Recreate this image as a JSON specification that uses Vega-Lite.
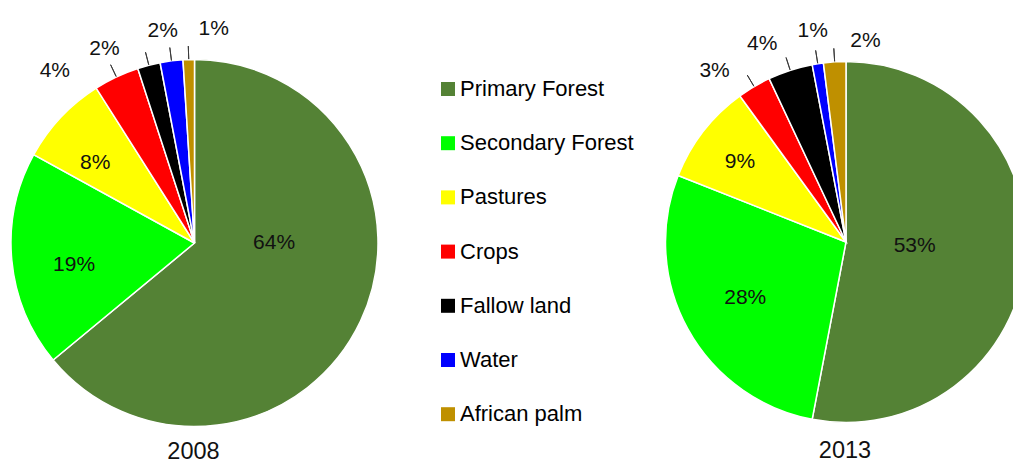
{
  "$schema": "https://vega.github.io/schema/vega-lite/v6.json",
  "width": 1013,
  "height": 467,
  "autosize": "none",
  "padding": 0,
  "background": "white",
  "config": {"view": {"stroke": null}, "text": {"font": "Liberation Sans", "fontSize": 21, "fill": "#111111"}},
  "data": {
    "values": [
      {"year": "2008", "cat": "Primary Forest", "k": 1, "share": 0.64},
      {"year": "2008", "cat": "Secondary Forest", "k": 2, "share": 0.19},
      {"year": "2008", "cat": "Pastures", "k": 3, "share": 0.08},
      {"year": "2008", "cat": "Crops", "k": 4, "share": 0.04},
      {"year": "2008", "cat": "Fallow land", "k": 5, "share": 0.02},
      {"year": "2008", "cat": "Water", "k": 6, "share": 0.02},
      {"year": "2008", "cat": "African palm", "k": 7, "share": 0.01},
      {"year": "2013", "cat": "Primary Forest", "k": 1, "share": 0.53},
      {"year": "2013", "cat": "Secondary Forest", "k": 2, "share": 0.28},
      {"year": "2013", "cat": "Pastures", "k": 3, "share": 0.09},
      {"year": "2013", "cat": "Crops", "k": 4, "share": 0.03},
      {"year": "2013", "cat": "Fallow land", "k": 5, "share": 0.04},
      {"year": "2013", "cat": "Water", "k": 6, "share": 0.01},
      {"year": "2013", "cat": "African palm", "k": 7, "share": 0.02}
    ]
  },
  "layer": [
    {
      "transform": [{"filter": "datum.year == '2008'"}],
      "encoding": {
        "x": {"field": "year", "type": "nominal", "axis": null, "scale": {"type": "point", "domain": ["2008", "2013"], "range": [194.5, 846], "padding": 0}},
        "y": {"field": "year", "type": "nominal", "axis": null, "scale": {"type": "point", "domain": ["2008", "2013"], "range": [243, 242], "padding": 0}},
        "theta": {"field": "share", "type": "quantitative", "stack": true, "scale": {"domain": [0, 1]}},
        "order": {"field": "k", "type": "quantitative"},
        "detail": {"field": "cat", "type": "nominal"}
      },
      "layer": [
        {
          "mark": {"type": "arc", "outerRadius": 183.5, "stroke": "white", "strokeWidth": 1.5},
          "encoding": {
            "color": {
              "field": "cat", "type": "nominal",
              "scale": {"domain": ["Primary Forest", "Secondary Forest", "Pastures", "Crops", "Fallow land", "Water", "African palm"], "range": ["#548235", "#00FF00", "#FFFF00", "#FF0000", "#000000", "#0000FF", "#BF9000"]},
              "legend": {"orient": "none", "legendX": 437, "legendY": 78, "title": null, "symbolType": "square", "symbolSize": 196, "symbolStrokeWidth": 0, "labelFont": "Liberation Sans", "labelFontSize": 22, "labelColor": "#000000", "rowPadding": 32.2, "labelOffset": 1, "labelLimit": 300}
            }
          }
        },
        {
          "mark": {"type": "arc", "innerRadius": 184, "outerRadius": 197, "padAngle": 0.6, "fillOpacity": 0, "stroke": "#3a3a3a", "strokeWidth": 1},
          "encoding": {"strokeOpacity": {"condition": {"test": "datum.share < 0.05", "value": 1}, "value": 0}}
        },
        {"mark": {"type": "text", "radius": 78, "dx": 9, "dy": -33},
         "encoding": {"text": {"condition": {"test": "datum.cat == 'Primary Forest'", "field": "share", "type": "quantitative", "format": ".0%"}, "value": ""}}},
        {"mark": {"type": "text", "radius": 122, "dx": 1, "dy": 11},
         "encoding": {"text": {"condition": {"test": "datum.cat == 'Secondary Forest'", "field": "share", "type": "quantitative", "format": ".0%"}, "value": ""}}},
        {"mark": {"type": "text", "radius": 128, "dx": -6, "dy": 8},
         "encoding": {"text": {"condition": {"test": "datum.cat == 'Pastures'", "field": "share", "type": "quantitative", "format": ".0%"}, "value": ""}}},
        {"mark": {"type": "text", "radius": 213, "dx": -49, "dy": 21},
         "encoding": {"text": {"condition": {"test": "datum.cat == 'Crops'", "field": "share", "type": "quantitative", "format": ".0%"}, "value": ""}}},
        {"mark": {"type": "text", "radius": 213, "dx": -37, "dy": 12},
         "encoding": {"text": {"condition": {"test": "datum.cat == 'Fallow land'", "field": "share", "type": "quantitative", "format": ".0%"}, "value": ""}}},
        {"mark": {"type": "text", "radius": 214, "dx": -5, "dy": 0},
         "encoding": {"text": {"condition": {"test": "datum.cat == 'Water'", "field": "share", "type": "quantitative", "format": ".0%"}, "value": ""}}},
        {"mark": {"type": "text", "radius": 214, "dx": 26, "dy": 0},
         "encoding": {"text": {"condition": {"test": "datum.cat == 'African palm'", "field": "share", "type": "quantitative", "format": ".0%"}, "value": ""}}}
      ]
    },
    {
      "transform": [{"filter": "datum.year == '2013'"}],
      "encoding": {
        "x": {"field": "year", "type": "nominal", "axis": null, "scale": {"type": "point", "domain": ["2008", "2013"], "range": [194.5, 846], "padding": 0}},
        "y": {"field": "year", "type": "nominal", "axis": null, "scale": {"type": "point", "domain": ["2008", "2013"], "range": [243, 242], "padding": 0}},
        "theta": {"field": "share", "type": "quantitative", "stack": true, "scale": {"domain": [0, 1]}},
        "order": {"field": "k", "type": "quantitative"},
        "detail": {"field": "cat", "type": "nominal"}
      },
      "layer": [
        {
          "mark": {"type": "arc", "outerRadius": 180.5, "stroke": "white", "strokeWidth": 1.5},
          "encoding": {
            "color": {
              "field": "cat", "type": "nominal",
              "scale": {"domain": ["Primary Forest", "Secondary Forest", "Pastures", "Crops", "Fallow land", "Water", "African palm"], "range": ["#548235", "#00FF00", "#FFFF00", "#FF0000", "#000000", "#0000FF", "#BF9000"]},
              "legend": {"orient": "none", "legendX": 437, "legendY": 78, "title": null, "symbolType": "square", "symbolSize": 196, "symbolStrokeWidth": 0, "labelFont": "Liberation Sans", "labelFontSize": 22, "labelColor": "#000000", "rowPadding": 32.2, "labelOffset": 1, "labelLimit": 300}
            }
          }
        },
        {
          "mark": {"type": "arc", "innerRadius": 181, "outerRadius": 194, "padAngle": 0.6, "fillOpacity": 0, "stroke": "#3a3a3a", "strokeWidth": 1},
          "encoding": {"strokeOpacity": {"condition": {"test": "datum.share < 0.05", "value": 1}, "value": 0}}
        },
        {"mark": {"type": "text", "radius": 69, "dx": 0, "dy": -2},
         "encoding": {"text": {"condition": {"test": "datum.cat == 'Primary Forest'", "field": "share", "type": "quantitative", "format": ".0%"}, "value": ""}}},
        {"mark": {"type": "text", "radius": 115, "dx": 0, "dy": 1},
         "encoding": {"text": {"condition": {"test": "datum.cat == 'Secondary Forest'", "field": "share", "type": "quantitative", "format": ".0%"}, "value": ""}}},
        {"mark": {"type": "text", "radius": 133, "dx": -1, "dy": 2},
         "encoding": {"text": {"condition": {"test": "datum.cat == 'Pastures'", "field": "share", "type": "quantitative", "format": ".0%"}, "value": ""}}},
        {"mark": {"type": "text", "radius": 213, "dx": -23, "dy": 12},
         "encoding": {"text": {"condition": {"test": "datum.cat == 'Crops'", "field": "share", "type": "quantitative", "format": ".0%"}, "value": ""}}},
        {"mark": {"type": "text", "radius": 213, "dx": -18, "dy": 5},
         "encoding": {"text": {"condition": {"test": "datum.cat == 'Fallow land'", "field": "share", "type": "quantitative", "format": ".0%"}, "value": ""}}},
        {"mark": {"type": "text", "radius": 213, "dx": 0, "dy": -1},
         "encoding": {"text": {"condition": {"test": "datum.cat == 'Water'", "field": "share", "type": "quantitative", "format": ".0%"}, "value": ""}}},
        {"mark": {"type": "text", "radius": 201, "dx": 32, "dy": 0},
         "encoding": {"text": {"condition": {"test": "datum.cat == 'African palm'", "field": "share", "type": "quantitative", "format": ".0%"}, "value": ""}}}
      ]
    },
    {
      "transform": [{"filter": "datum.k == 1"}],
      "mark": {"type": "text", "dx": -1, "dy": 209, "fontSize": 23.5},
      "encoding": {
        "x": {"field": "year", "type": "nominal", "axis": null, "scale": {"type": "point", "domain": ["2008", "2013"], "range": [194.5, 846], "padding": 0}},
        "y": {"field": "year", "type": "nominal", "axis": null, "scale": {"type": "point", "domain": ["2008", "2013"], "range": [243, 242], "padding": 0}},
        "text": {"field": "year", "type": "nominal"}
      }
    }
  ]
}
